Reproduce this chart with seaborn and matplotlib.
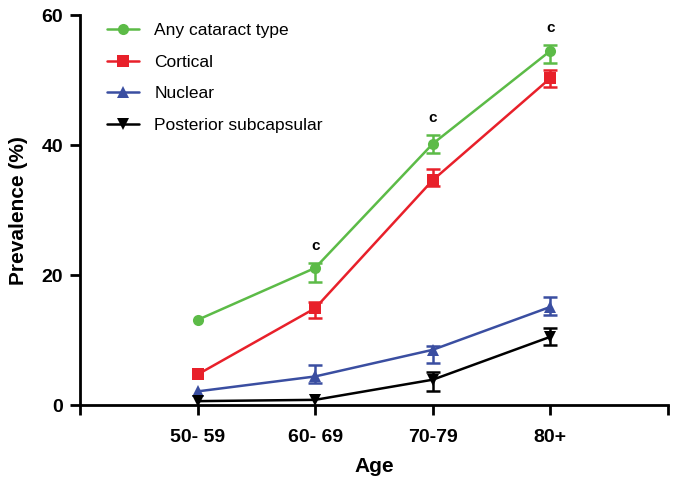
import numpy as np
import pandas as pd
import matplotlib
matplotlib.use('Agg')
import matplotlib.pyplot as plt
import seaborn as sns

ages = ['50- 59', '60- 69', '70-79', '80+']
series = ['Any cataract type', 'Cortical', 'Nuclear', 'Posterior subcapsular']

any_type = [13.1, 21.1, 40.2, 54.5]
any_lo = [13.1, 18.9, 38.8, 52.6]
any_hi = [13.1, 21.8, 41.5, 55.4]

cortical = [4.7, 14.9, 34.6, 50.3]
cortical_lo = [4.7, 13.4, 33.7, 48.9]
cortical_hi = [4.7, 15.8, 36.3, 51.5]

nuclear = [2.1, 4.4, 8.5, 15.1]
nuclear_lo = [2.1, 3.4, 6.5, 13.8]
nuclear_hi = [2.1, 6.2, 9.1, 16.6]

psc = [0.6, 0.8, 3.9, 10.5]
psc_lo = [0.6, 0.8, 2.2, 9.2]
psc_hi = [0.6, 0.8, 5.1, 11.8]

sig_idx = [1, 2, 3]  # age groups marked with "c"

colors = ['#5cbb47', '#e8202a', '#3a4ea1', '#000000']
markers = ['o', 's', '^', 'v']

vals = [any_type, cortical, nuclear, psc]
los = [any_lo, cortical_lo, nuclear_lo, psc_lo]
his = [any_hi, cortical_hi, nuclear_hi, psc_hi]

xpos = np.arange(1, len(ages) + 1)
df = pd.DataFrame({
    'x': np.tile(xpos, len(series)),
    'prev': np.concatenate(vals),
    'type': np.repeat(series, len(ages)),
})

sns.set_style('ticks', {'axes.edgecolor': 'black', 'xtick.color': 'black',
                        'ytick.color': 'black', 'text.color': 'black',
                        'axes.labelcolor': 'black'})
plt.rcParams['font.family'] = ['Liberation Sans', 'DejaVu Sans']

fig = plt.figure(figsize=(6.75, 4.88), dpi=100)
ax = fig.add_axes([0.1185, 0.17, 0.871, 0.799])

sns.lineplot(data=df, x='x', y='prev', hue='type', style='type',
             hue_order=series, style_order=series,
             palette=dict(zip(series, colors)),
             markers=dict(zip(series, markers)), dashes=False,
             markersize=8, markeredgewidth=0, linewidth=1.8, ax=ax)

# error bars only where an interval is shown
for v, lo, hi, c in zip(vals, los, his, colors):
    v = np.array(v)
    lo = np.array(lo)
    hi = np.array(hi)
    m = (hi - lo) > 0
    err = np.vstack([v[m] - lo[m], hi[m] - v[m]])
    ax.errorbar(xpos[m], v[m], yerr=err, fmt='none', ecolor=c, elinewidth=1.8,
                capsize=5, capthick=1.8)

for i in sig_idx:
    ax.text(xpos[i], any_hi[i] + 1.6, 'c', ha='center', va='bottom',
            fontsize=11, fontweight='bold')

ax.set_xlim(0, 5)
ax.set_ylim(0, 60)
ax.set_xticks(range(0, 6))
ax.set_xticklabels([''] + ages + [''])
ax.set_yticks([0, 20, 40, 60])
ax.tick_params(axis='both', width=2, length=7, labelsize=14)
ax.tick_params(axis='x', pad=10)
ax.tick_params(axis='y', pad=5)
for lab in ax.get_xticklabels() + ax.get_yticklabels():
    lab.set_fontweight('bold')
for s in ['left', 'bottom']:
    ax.spines[s].set_linewidth(2)
sns.despine(ax=ax)

ax.set_xlabel('Age', fontsize=15, fontweight='bold', labelpad=8)
ax.set_ylabel('Prevalence (%)', fontsize=15, fontweight='bold', labelpad=10)

leg = ax.legend(frameon=False, loc='upper left', bbox_to_anchor=(0.02, 1.02),
                fontsize=12.5, labelspacing=0.95, handlelength=1.8,
                handletextpad=0.9, markerscale=1.0)

fig.savefig('out.png', dpi=100)
